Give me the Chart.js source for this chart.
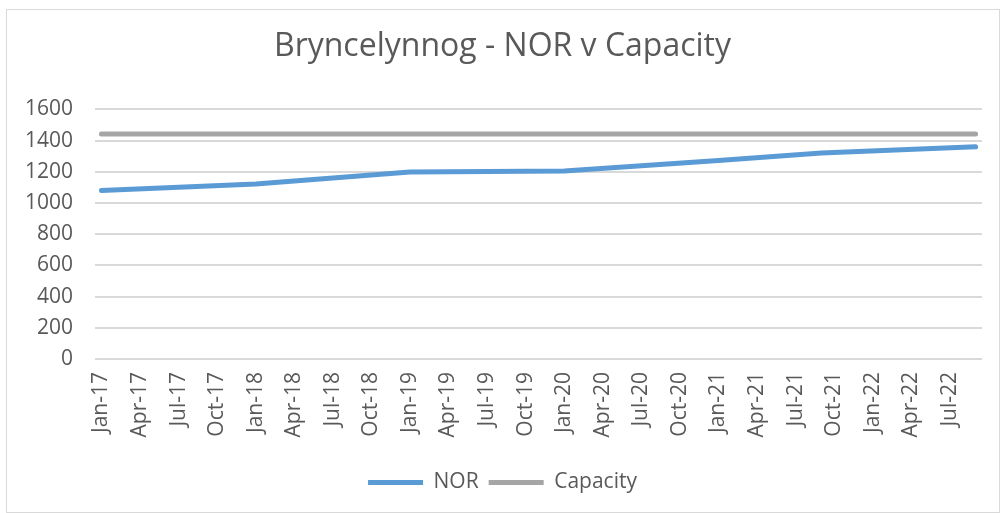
<!DOCTYPE html>
<html>
<head>
<meta charset="utf-8">
<title>Bryncelynnog - NOR v Capacity</title>
<script src="https://cdn.jsdelivr.net/npm/chart.js@4/dist/chart.umd.min.js"></script>
<style>
  html, body { margin: 0; padding: 0; background: #fff; }
  #frame { position: absolute; left: 6px; top: 9px; width: 992px; height: 502px; border: 1px solid #d9d9d9; }
  #wrap { position: absolute; left: 0; top: 0; width: 1006px; height: 513px; }
</style>
</head>
<body>
<div id="frame"></div>
<div id="wrap"><canvas id="chart" width="1006" height="513"></canvas></div>
<script>
    // monthly date axis, labelled every 3 months
    var months = [
        'Jan-17','Feb-17','Mar-17','Apr-17','May-17','Jun-17','Jul-17','Aug-17','Sep-17','Oct-17','Nov-17','Dec-17',
        'Jan-18','Feb-18','Mar-18','Apr-18','May-18','Jun-18','Jul-18','Aug-18','Sep-18','Oct-18','Nov-18','Dec-18',
        'Jan-19','Feb-19','Mar-19','Apr-19','May-19','Jun-19','Jul-19','Aug-19','Sep-19','Oct-19','Nov-19','Dec-19',
        'Jan-20','Feb-20','Mar-20','Apr-20','May-20','Jun-20','Jul-20','Aug-20','Sep-20','Oct-20','Nov-20','Dec-20',
        'Jan-21','Feb-21','Mar-21','Apr-21','May-21','Jun-21','Jul-21','Aug-21','Sep-21','Oct-21','Nov-21','Dec-21',
        'Jan-22','Feb-22','Mar-22','Apr-22','May-22','Jun-22','Jul-22','Aug-22','Sep-22'
    ];

    var norDates = ['Jan-17', 'Jan-18', 'Jan-19', 'Jan-20', 'Jan-21', 'Sep-21', 'Sep-22'];
    var norValues = [1080, 1122, 1199, 1205, 1272, 1320, 1360];

    var capDates = ['Jan-17', 'Sep-22'];
    var capValues = [1442, 1442];

    var yTicks = [0, 200, 400, 600, 800, 1000, 1200, 1400, 1600];

    var grey = '#595959';
    var font = "'Open Sans', 'Noto Sans', sans-serif";

    function pairs(dates, vals) {
        var out = [];
        for (var i = 0; i < dates.length; i++) out.push({ x: dates[i], y: vals[i] });
        return out;
    }

    new Chart(document.getElementById('chart'), {
        type: 'line',
        data: {
            labels: months,
            datasets: [{
                label: 'NOR',
                data: pairs(norDates, norValues),
                borderColor: '#5b9bd5',
                backgroundColor: '#5b9bd5',
                borderWidth: 5,
                borderCapStyle: 'round',
                borderJoinStyle: 'round',
                pointRadius: 0,
                pointStyle: 'line',
                tension: 0
            }, {
                label: 'Capacity',
                data: pairs(capDates, capValues),
                borderColor: '#a5a5a5',
                backgroundColor: '#a5a5a5',
                borderWidth: 5,
                borderCapStyle: 'round',
                pointRadius: 0,
                pointStyle: 'line',
                tension: 0
            }]
        },
        options: {
            responsive: false,
            animation: false,
            layout: { padding: { left: 23, right: 24, top: 0, bottom: 10 } },
            plugins: {
                title: {
                    display: true,
                    text: 'Bryncelynnog - NOR v Capacity',
                    color: grey,
                    font: { family: font, size: 32, weight: 'normal' },
                    padding: { top: 28, bottom: 43 }
                },
                legend: {
                    position: 'bottom',
                    labels: {
                        color: grey,
                        font: { family: font, size: 21 },
                        usePointStyle: true,
                        pointStyleWidth: 55,
                        boxHeight: 21,
                        padding: 10
                    }
                },
                tooltip: { enabled: false }
            },
            scales: {
                x: {
                    type: 'category',
                    offset: true,
                    grid: { display: false, drawTicks: false },
                    border: { display: false },
                    afterFit: function(s) { s.height = 103; s.paddingLeft = 0; s.paddingRight = 0; },
                    ticks: {
                        autoSkip: false,
                        maxRotation: 90,
                        minRotation: 90,
                        padding: 13,
                        color: grey,
                        font: { family: font, size: 21 },
                        callback: function(v, i) { return i % 3 === 0 ? months[i] : ''; }
                    }
                },
                y: {
                    min: 0,
                    max: 1600,
                    afterBuildTicks: function(s) { s.ticks = yTicks.map(function(v) { return { value: v }; }); },
                    afterFit: function(s) { s.width = 72; },
                    grid: { color: '#d9d9d9', lineWidth: 2, drawTicks: false },
                    border: { display: false },
                    ticks: {
                        padding: 22,
                        color: grey,
                        font: { family: font, size: 21 },
                        callback: function(v) { return String(v); }
                    }
                }
            }
        }
    });
</script>
</body>
</html>
